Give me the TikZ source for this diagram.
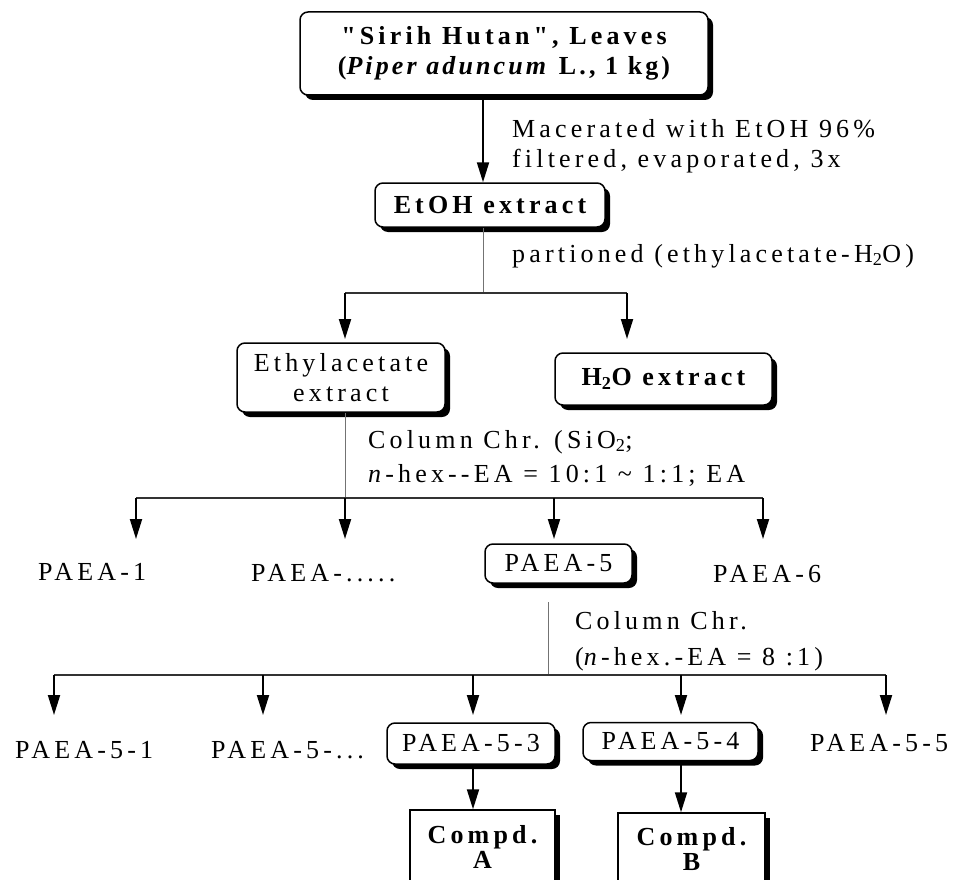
\documentclass[tikz,border=0pt]{standalone}
\usepackage{fontspec}
\setmainfont{Liberation Serif}[LetterSpace=16, Ligatures=TeXOff]
\usetikzlibrary{arrows.meta,shadows}
\begin{document}
\begin{tikzpicture}[x=1pt,y=-1pt,
  font=\fontsize{26}{30}\selectfont,
  rbox/.style={draw=black, line width=1.5pt, rounded corners=8pt, fill=white, align=center, inner sep=0pt,
    drop shadow={shadow xshift=5pt, shadow yshift=-5pt, fill=black, opacity=1}},
  sbox/.style={rbox, rounded corners=0pt},
  lbl/.style={anchor=base west, inner sep=0pt},
  arr/.style={line width=2pt, -{Triangle[length=20pt,width=12pt]}},
  stem/.style={line width=1pt, draw=black!55},
  split/.style={line width=1.5pt, draw=black!80},
]
\useasboundingbox (0,0) rectangle (955,880);

% boxes
\node[rbox, minimum width=408pt, minimum height=83pt] (top) at (504,53.5)
  {\bfseries "Sirih Hutan", Leaves\\\bfseries\addfontfeature{LetterSpace=12}(\textit{Piper aduncum} L., 1 kg)};
\node[rbox, minimum width=230pt, minimum height=44pt] (etoh) at (490,205) {\bfseries EtOH extract};
\node[rbox, minimum width=208pt, minimum height=69pt] (ethyl) at (341,377.5) {Ethylacetate\\extract};
\node[rbox, minimum width=217pt, minimum height=52pt] (water) at (663.5,379) {\bfseries H\textsubscript{2}O extract};
\node[rbox, minimum width=147pt, minimum height=39pt] (p5) at (558.5,563.5) {PAEA-5};
\node[rbox, minimum width=168pt, minimum height=41pt] (p53) at (471,743.5) {PAEA-5-3};
\node[rbox, minimum width=175pt, minimum height=38pt] (p54) at (670.5,741.5) {PAEA-5-4};
\node[sbox, minimum width=145pt, minimum height=74pt] (ca) at (482.5,847) {\bfseries Compd.\\[-5pt]\bfseries A};
\node[sbox, minimum width=147pt, minimum height=72pt] (cb) at (691.5,849) {\bfseries Compd.\\[-5pt]\bfseries B};

% plain labels
\node[lbl] (p1) at (38,580) {PAEA-1};
\node[lbl] (pd) at (251,581) {PAEA-.....};
\node[lbl] (p6) at (713,582) {PAEA-6};
\node[lbl] (p51) at (15,758) {PAEA-5-1};
\node[lbl] (p5d) at (211,758) {PAEA-5-...};
\node[lbl] (p55) at (810,751) {PAEA-5-5};

% step descriptions
\node[lbl] (m1) at (512,137) {Macerated with EtOH 96\%};
\node[lbl] (m2) at (512,167) {filtered, evaporated, 3x};
\node[lbl] (m3) at (512,262) {partioned (ethylacetate-H\textsubscript{2}O)};
\node[lbl] (m4) at (368,448) {Column Chr. (SiO\textsubscript{2};};
\node[lbl] (m5) at (368,482) {\textit{n}-hex--EA = 10:1 \textasciitilde{} 1:1; EA};
\node[lbl] (m6) at (575,629) {Column Chr.};
\node[lbl] (m7) at (575,665) {(\textit{n}-hex.-EA = 8 :1)};

% level 1
\coordinate (c1) at (483,0);
\draw[arr] (top.south -| c1) -- (etoh.north -| c1);
\coordinate (j1) at (483,293);
\coordinate (l1) at (345,293);
\coordinate (r1) at (627,293);
\coordinate (l1e) at (345,339);
\coordinate (r1e) at (627,339);
\draw[stem] (etoh.south -| j1) -- (j1);
\draw[split] (l1) -- (r1);
\draw[arr] (l1) -- (l1e);
\draw[arr] (r1) -- (r1e);

% level 2
\coordinate (j2) at (345,498);
\coordinate (a1) at (136,498);
\coordinate (a4) at (763,498);
\draw[stem] (ethyl.south -| j2) -- (j2);
\draw[split] (a1) -- (a4);
\foreach \n/\x in {a/136, b/345, c/554, d/763} {
  \coordinate (t2\n) at (\x,498);
  \coordinate (e2\n) at (\x,539);
  \draw[arr] (t2\n) -- (e2\n);
}

% level 3
\coordinate (s3) at (548,602);
\coordinate (j3) at (548,675);
\draw[stem] (s3) -- (j3);
\coordinate (b1) at (54,675);
\coordinate (b5) at (886,675);
\draw[split] (b1) -- (b5);
\foreach \n/\x in {a/54, b/263, c/473, d/681, e/886} {
  \coordinate (t3\n) at (\x,675);
  \coordinate (e3\n) at (\x,715);
  \draw[arr] (t3\n) -- (e3\n);
}

% level 4
\coordinate (k1) at (473,0);
\coordinate (k2) at (681,0);
\draw[arr] (p53.south -| k1) -- (ca.north -| k1);
\draw[arr] (p54.south -| k2) -- (cb.north -| k2);
\end{tikzpicture}
\end{document}
